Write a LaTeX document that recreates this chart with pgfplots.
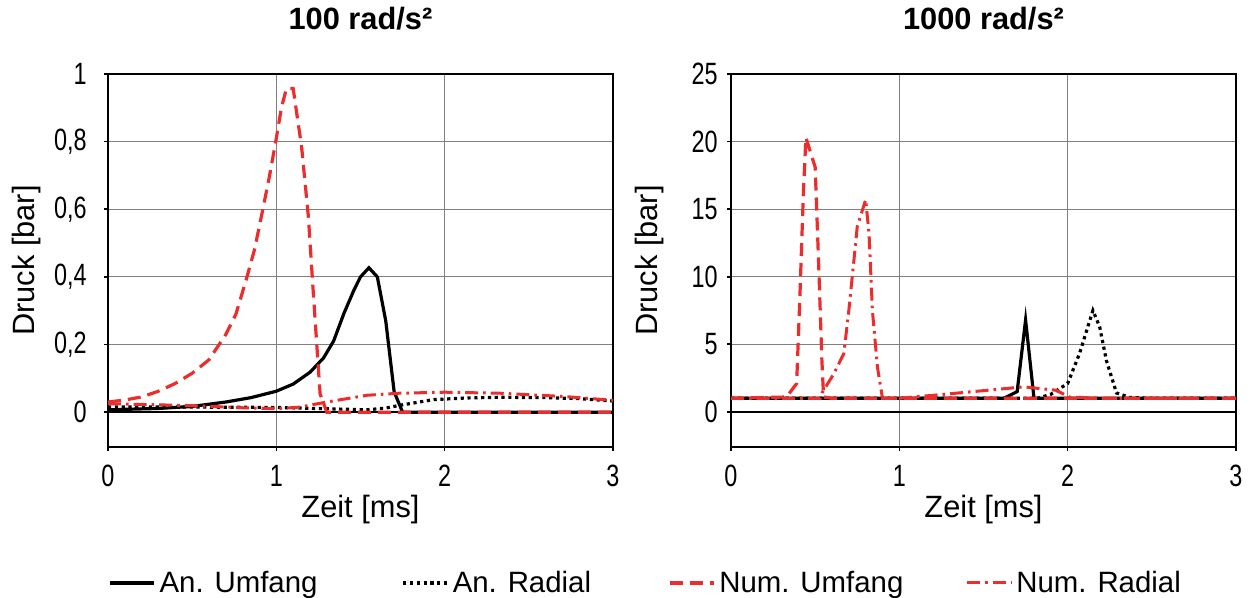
\documentclass[border=0pt]{standalone}
\usepackage{fontspec}
\setmainfont{Liberation Sans}
\newfontfamily\narrowfont[FakeStretch=0.76]{Liberation Sans}
\usepackage{pgfplots}
\pgfplotsset{compat=1.18}
\definecolor{myred}{RGB}{235,45,45}

\pgfplotstableread{
x y
0 0.007
0.3 0.011
0.5 0.017
0.7 0.030
0.85 0.043
1.0 0.062
1.1 0.083
1.2 0.118
1.28 0.16
1.34 0.21
1.40 0.29
1.46 0.36
1.50 0.40
1.55 0.427
1.60 0.40
1.65 0.27
1.70 0.06
1.75 0
3 0
}\LAnUmf
\pgfplotstableread{
x y
0 0.015
0.5 0.015
1.0 0.014
1.3 0.010
1.54 0.007
1.65 0.012
1.73 0.020
1.85 0.030
1.93 0.037
2.13 0.042
2.33 0.044
2.6 0.043
2.8 0.040
3.0 0.033
}\LAnRad
\pgfplotstableread{
x y
0 0.03
0.1 0.036
0.2 0.045
0.3 0.062
0.4 0.085
0.5 0.115
0.6 0.155
0.7 0.23
0.76 0.29
0.82 0.39
0.87 0.48
0.92 0.60
0.96 0.70
1.0 0.81
1.03 0.90
1.06 0.957
1.10 0.957
1.15 0.785
1.19 0.58
1.22 0.35
1.26 0.054
1.30 0
3 0
}\LNumUmf
\pgfplotstableread{
x y
0 0.025
0.45 0.020
0.8 0.013
1.0 0.010
1.14 0.015
1.3 0.030
1.54 0.050
1.73 0.056
2.0 0.059
2.33 0.056
2.72 0.046
3.0 0.035
}\LNumRad

\pgfplotstableread{
x y
0 1
1.62 1
1.70 1.5
1.75 6.8
1.80 1.0
3 1
}\RAnUmf
\pgfplotstableread{
x y
0 1
1.82 1
1.90 1.3
2.0 2.1
2.07 4.3
2.15 7.5
2.19 6.3
2.23 3.8
2.29 1.4
2.37 1.06
2.5 1
3 1
}\RAnRad
\pgfplotstableread{
x y
0 1
0.33 1.1
0.39 2.1
0.41 8.8
0.43 16.2
0.445 20.3
0.50 18.1
0.52 11.2
0.54 3.8
0.55 1.1
0.60 1
3 1
}\RNumUmf
\pgfplotstableread{
x y
0 1
0.53 1
0.54 1.4
0.61 2.8
0.67 4.3
0.70 7.5
0.73 11.2
0.75 13.7
0.80 15.7
0.82 13.2
0.84 7.5
0.87 3.3
0.90 1.0
1.0 1.0
1.32 1.36
1.74 1.85
1.93 1.6
2.01 1.1
2.2 1.0
3 1
}\RNumRad

\pgfplotsset{
 mystyle/.style={
  scale only axis, width=252.5pt, height=186.5pt,
  xmin=0, xmax=3, xtick={0,1,2,3},
  grid=major, grid style={gray, line width=0.5pt},
  axis line style={black, line width=1.1pt},
  tick align=outside, major tick length=2pt,
  tick style={black, line width=0.8pt},
  xtick pos=bottom, ytick pos=left,
  /pgf/number format/assume math mode=true,
  /pgf/number format/use comma,
  tick label style={font=\fontsize{15.4}{16}\narrowfont},
  xticklabel style={inner sep=0pt, anchor=north, yshift=-7pt},
  label style={font=\fontsize{15.4}{18}\selectfont},
  xlabel={Zeit [ms]},
  ylabel={Druck [bar]},
  xlabel style={at={(axis description cs:0.5,-0.19)}, anchor=base},
  ylabel style={at={(axis description cs:-0.1446,0.5)}, anchor=base},
  title style={font=\fontsize{15.4}{18}\selectfont\bfseries, at={(axis description cs:0.5,1.0858)}, anchor=base},
  extra y ticks={0}, extra y tick labels={},
  extra y tick style={grid style={black, line width=0.8pt}, major tick length=0pt},
  legend image code/.code={\draw[##1] (0pt,0pt) -- (22pt,0pt);},
 },
 sAU/.style={black, line width=1.6pt},
 sAR/.style={black, line width=1.6pt, dash pattern=on 1.6pt off 1.8pt},
 sNU/.style={myred, line width=1.6pt, dash pattern=on 6.5pt off 3.5pt},
 sNR/.style={myred, line width=1.5pt, dash pattern=on 6.5pt off 2.5pt on 1.3pt off 2.5pt},
}

\begin{document}
\begin{tikzpicture}
\useasboundingbox (0,0) rectangle (626.5pt,299pt);
\begin{axis}[mystyle, at={(54pt,75.5pt)}, anchor=south west,
  title={100 rad/s²},
  ymin=-0.103, ymax=1, ytick={0,0.2,0.4,0.6,0.8,1},
  yticklabel style={inner sep=0pt, anchor=east, xshift=-8.5pt},
  legend columns=4, legend cell align=left,
  legend style={at={(axis description cs:0,-0.3646)}, anchor=west,
    draw=none, fill=none, inner sep=0pt,
    font=\fontsize{14.7}{16}\selectfont,
    /tikz/column 2/.style={column sep=40pt},
    /tikz/column 4/.style={column sep=36.5pt},
    /tikz/column 6/.style={column sep=29pt}},
]
\addplot[sAU] table {\LAnUmf};
\addlegendentry{An. Umfang}
\addplot[sAR] table {\LAnRad};
\addlegendentry{An. Radial}
\addplot[sNU] table {\LNumUmf};
\addlegendentry{Num. Umfang}
\addplot[sNR] table {\LNumRad};
\addlegendentry{Num. Radial}
\end{axis}
\begin{axis}[mystyle, at={(365.5pt,75.5pt)}, anchor=south west,
  title={1000 rad/s²},
  ymin=-2.6, ymax=25, ytick={0,5,10,15,20,25},
  yticklabel style={inner sep=0pt, anchor=east, xshift=-4.5pt},
]
\addplot[sAU] table {\RAnUmf};
\addplot[sAR] table {\RAnRad};
\addplot[sNU] table {\RNumUmf};
\addplot[sNR] table {\RNumRad};
\end{axis}
\end{tikzpicture}
\end{document}
